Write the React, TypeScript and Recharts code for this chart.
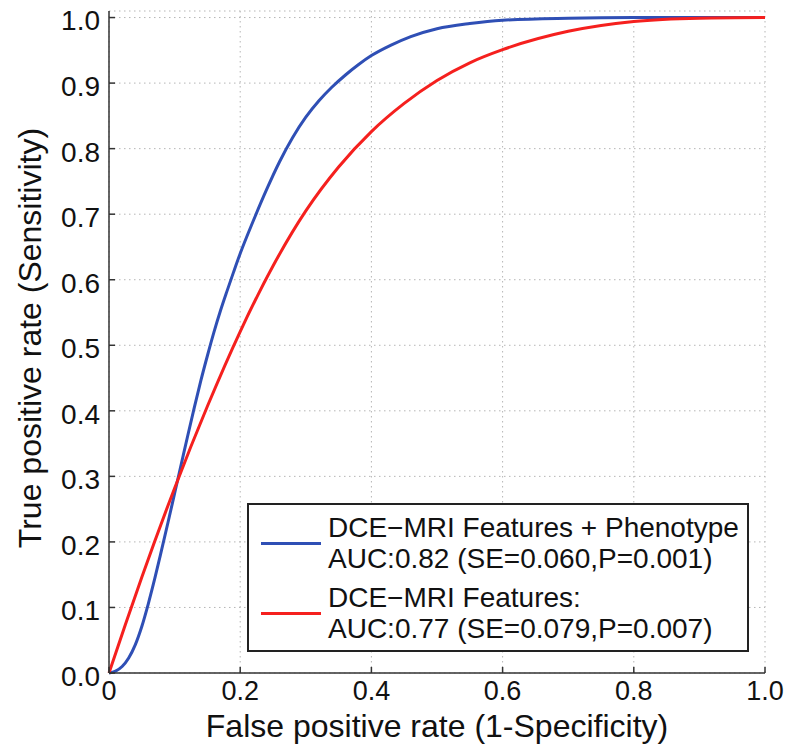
import {
  LineChart,
  Line,
  XAxis,
  YAxis,
  CartesianGrid,
  Legend,
} from 'recharts';

const seriesNames = [
  ['DCE\u2212MRI Features + Phenotype', 'AUC:0.82 (SE=0.060,P=0.001)'],
  ['DCE\u2212MRI Features:', 'AUC:0.77 (SE=0.079,P=0.007)'],
];

const seriesColors = ['#2f4fb5', '#f5201e'];

// ROC points: [false positive rate, true positive rate]
const phenotypeRoc = [
  [0, 0], [0.01, 0.003], [0.02, 0.01], [0.03, 0.023], [0.04, 0.043],
  [0.05, 0.071], [0.06, 0.106], [0.07, 0.145], [0.08, 0.187], [0.09, 0.23],
  [0.1, 0.274], [0.11, 0.318], [0.12, 0.362], [0.13, 0.405], [0.14, 0.446],
  [0.15, 0.484], [0.16, 0.52], [0.17, 0.553], [0.18, 0.583], [0.19, 0.612],
  [0.2, 0.64], [0.22, 0.69], [0.24, 0.737], [0.26, 0.78], [0.28, 0.817],
  [0.3, 0.848], [0.32, 0.873], [0.34, 0.894], [0.36, 0.912], [0.38, 0.928],
  [0.4, 0.942], [0.43, 0.958], [0.46, 0.971], [0.5, 0.983], [0.55, 0.991],
  [0.6, 0.996], [0.7, 0.999], [0.8, 1.0], [1.0, 1.0],
];

const featuresRoc = [
  [0, 0], [0.025, 0.074], [0.05, 0.146], [0.1, 0.282], [0.15, 0.407],
  [0.2, 0.521], [0.25, 0.621], [0.3, 0.705], [0.35, 0.772], [0.4, 0.826],
  [0.45, 0.869], [0.5, 0.904], [0.55, 0.931], [0.6, 0.951], [0.7, 0.979],
  [0.8, 0.994], [0.9, 0.999], [1.0, 1.0],
];

const xTicks = [0, 0.2, 0.4, 0.6, 0.8, 1.0];
const xTickLabels = ['0', '0.2', '0.4', '0.6', '0.8', '1.0'];
const yTicks = [0, 0.1, 0.2, 0.3, 0.4, 0.5, 0.6, 0.7, 0.8, 0.9, 1.0];
const yTickLabels = ['0.0', '0.1', '0.2', '0.3', '0.4', '0.5', '0.6', '0.7', '0.8', '0.9', '1.0'];

const font = '"Liberation Sans", Arial, Helvetica, sans-serif';
const frame = { stroke: '#333', strokeWidth: 1.5 };

const toPoints = (rows: number[][]) => rows.map(([x, y]) => ({ x, y }));

function RocLegend() {
  return (
    <div
      style={{
        border: '2px solid #222',
        background: 'white',
        width: 498,
        boxSizing: 'content-box',
        padding: '7px 0 6px 0',
        fontFamily: font,
        fontSize: 28,
        lineHeight: '31px',
        color: '#111',
      }}
    >
      {seriesNames.map((lines, i) => (
        <div
          key={i}
          style={{ display: 'flex', alignItems: 'center', marginTop: i === 0 ? 0 : 8 }}
        >
          <div
            style={{
              width: 60,
              height: 3,
              background: seriesColors[i],
              marginLeft: 12,
              marginRight: 7,
            }}
          />
          <div>
            {lines.map((t) => (
              <div key={t} style={{ whiteSpace: 'nowrap' }}>{t}</div>
            ))}
          </div>
        </div>
      ))}
    </div>
  );
}

export default function App() {
  return (
    <div style={{ position: 'absolute', left: 0, top: 0, background: 'white' }}>
      <LineChart
        width={788}
        height={754}
        margin={{ top: 11, right: 23, left: 0, bottom: 0 }}
        style={{ fontFamily: font }}
      >
        <CartesianGrid stroke="#b5b5b5" strokeDasharray="1.5 3.5" strokeWidth={1} />
        <XAxis
          type="number"
          dataKey="x"
          domain={[0, 1]}
          ticks={xTicks}
          tickFormatter={(_v, i) => xTickLabels[i]}
          height={81}
          tickSize={-6}
          tickMargin={14}
          axisLine={frame}
          tickLine={frame}
          tick={{ fontSize: 27, fill: '#111' }}
          label={{
            value: 'False positive rate (1-Specificity)',
            position: 'insideBottom',
            offset: 17,
            style: { fontSize: 32, fill: '#111' },
          }}
        />
        <XAxis
          xAxisId="top"
          orientation="top"
          type="number"
          dataKey="x"
          domain={[0, 1]}
          ticks={xTicks}
          tickFormatter={() => ''}
          height={0}
          tickSize={-6}
          axisLine={frame}
          tickLine={frame}
        />
        <YAxis
          type="number"
          domain={[0, 1.01]}
          ticks={yTicks}
          tickFormatter={(_v, i) => yTickLabels[i]}
          width={109}
          tickSize={-6}
          tickMargin={15}
          axisLine={frame}
          tickLine={frame}
          tick={{ fontSize: 28, fill: '#111', dy: 3 }}
          label={{
            value: 'True positive rate (Sensitivity)',
            angle: -90,
            position: 'insideLeft',
            dx: 25,
            dy: -4,
            style: { fontSize: 32, fill: '#111', textAnchor: 'middle' },
          }}
        />
        <YAxis
          yAxisId="right"
          orientation="right"
          type="number"
          domain={[0, 1.01]}
          ticks={yTicks}
          tickFormatter={() => ''}
          width={0}
          tickSize={-6}
          axisLine={frame}
          tickLine={frame}
        />
        <Legend
          layout="vertical"
          align="center"
          verticalAlign="middle"
          wrapperStyle={{ left: 247, top: 503, width: 'auto', height: 'auto' }}
          content={() => <RocLegend />}
        />
        <Line
          data={toPoints(phenotypeRoc)}
          dataKey="y"
          name={seriesNames[0][0]}
          type="monotone"
          stroke={seriesColors[0]}
          strokeWidth={3}
          dot={false}
          isAnimationActive={false}
        />
        <Line
          data={toPoints(featuresRoc)}
          dataKey="y"
          name={seriesNames[1][0]}
          type="monotone"
          stroke={seriesColors[1]}
          strokeWidth={3}
          dot={false}
          isAnimationActive={false}
        />
      </LineChart>
    </div>
  );
}
